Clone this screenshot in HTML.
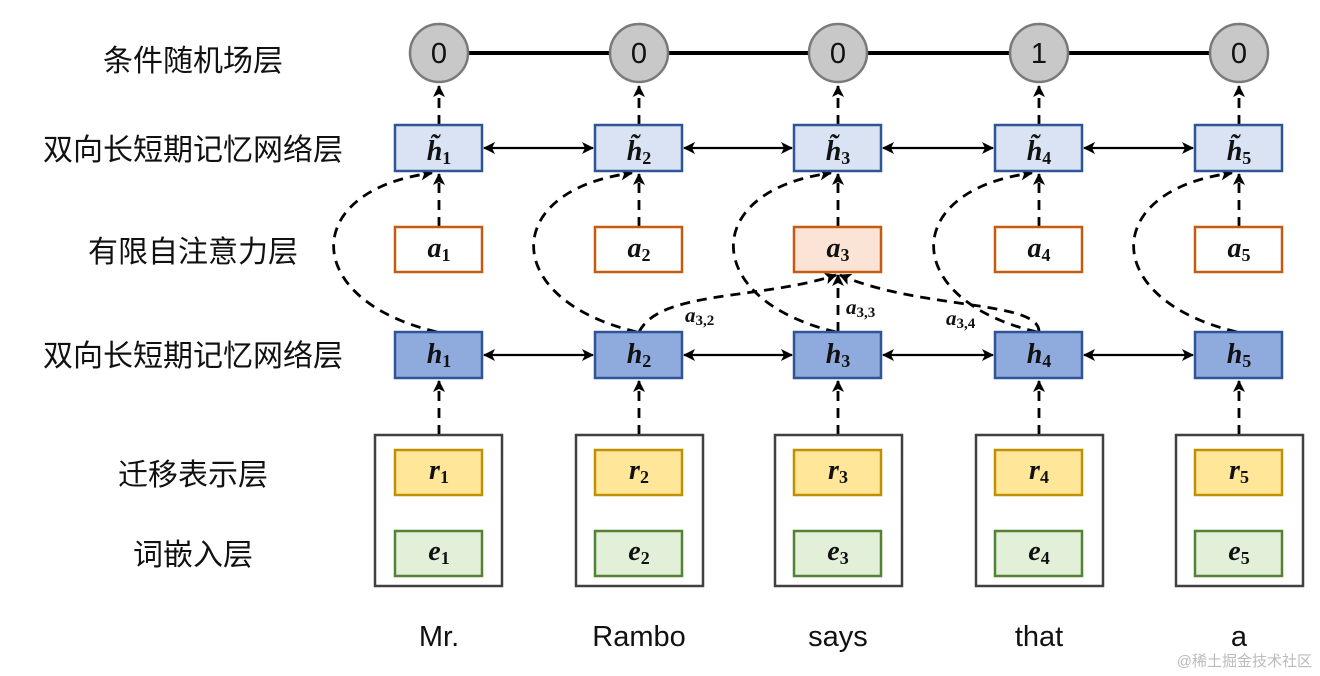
<!DOCTYPE html>
<html><head><meta charset="utf-8"><style>
body{margin:0;background:#fff}
svg{display:block}
.lab{font-family:"Liberation Sans","Noto Sans CJK SC",sans-serif;font-size:30px;fill:#111}
.m{font-family:"Liberation Serif",serif;font-weight:bold;font-style:italic;font-size:28px;fill:#111}
.s{font-style:normal;font-size:18px}
.w{font-family:"Liberation Sans",sans-serif;font-size:29px;fill:#111}
.n{font-family:"Liberation Sans",sans-serif;font-size:29px;fill:#111}
</style></head><body>
<svg width="1320" height="676" viewBox="0 0 1320 676">
<defs>
<marker id="ar" markerWidth="12" markerHeight="12" refX="11" refY="6" orient="auto" markerUnits="userSpaceOnUse"><path d="M0,0 L12,6 L0,12 L3,6 z" fill="#000"/></marker>
<marker id="al" markerWidth="12" markerHeight="12" refX="1" refY="6" orient="auto" markerUnits="userSpaceOnUse"><path d="M12,0 L0,6 L12,12 L9,6 z" fill="#000"/></marker>
</defs>
<g class="lab" text-anchor="middle">
<text x="193" y="71">条件随机场层</text>
<text x="193" y="160">双向长短期记忆网络层</text>
<text x="193" y="262">有限自注意力层</text>
<text x="193" y="366">双向长短期记忆网络层</text>
<text x="193" y="485">迁移表示层</text>
<text x="193" y="565">词嵌入层</text>
</g>
<line x1="439" y1="53" x2="1239" y2="53" stroke="#000" stroke-width="4"/>
<g fill="none" stroke="#000" stroke-width="2.8" stroke-dasharray="10,7">
<path d="M439 125 V86" marker-end="url(#ar)"/><path d="M639 125 V86" marker-end="url(#ar)"/><path d="M838 125 V86" marker-end="url(#ar)"/><path d="M1039 125 V86" marker-end="url(#ar)"/><path d="M1239 125 V86" marker-end="url(#ar)"/>
<path d="M439 227 V174" marker-end="url(#ar)"/><path d="M639 227 V174" marker-end="url(#ar)"/><path d="M838 227 V174" marker-end="url(#ar)"/><path d="M1039 227 V174" marker-end="url(#ar)"/><path d="M1239 227 V174" marker-end="url(#ar)"/>
<path d="M439 435 V381" marker-end="url(#ar)"/><path d="M639 435 V381" marker-end="url(#ar)"/><path d="M838 435 V381" marker-end="url(#ar)"/><path d="M1039 435 V381" marker-end="url(#ar)"/><path d="M1239 435 V381" marker-end="url(#ar)"/>
<path d="M437 332 C300 300, 300 190, 432 173" marker-end="url(#ar)"/>
<path d="M637 332 C500 300, 500 190, 632 173" marker-end="url(#ar)"/>
<path d="M836 332 C700 300, 700 190, 831 173" marker-end="url(#ar)"/>
<path d="M1037 332 C900 300, 900 190, 1032 173" marker-end="url(#ar)"/>
<path d="M1237 332 C1100 300, 1100 190, 1232 173" marker-end="url(#ar)"/>
<path d="M639 332 C660 290, 760 300, 836 275" marker-end="url(#ar)"/>
<path d="M838 332 V275" marker-end="url(#ar)"/>
<path d="M1039 332 C1040 300, 920 310, 840 275" marker-end="url(#ar)"/>
</g>
<g stroke="#000" stroke-width="2.2" fill="none">
<line x1="484" y1="148" x2="593" y2="148" marker-start="url(#al)" marker-end="url(#ar)"/>
<line x1="684" y1="148" x2="792" y2="148" marker-start="url(#al)" marker-end="url(#ar)"/>
<line x1="883" y1="148" x2="993" y2="148" marker-start="url(#al)" marker-end="url(#ar)"/>
<line x1="1084" y1="148" x2="1193" y2="148" marker-start="url(#al)" marker-end="url(#ar)"/>
<line x1="484" y1="355" x2="593" y2="355" marker-start="url(#al)" marker-end="url(#ar)"/>
<line x1="684" y1="355" x2="792" y2="355" marker-start="url(#al)" marker-end="url(#ar)"/>
<line x1="883" y1="355" x2="993" y2="355" marker-start="url(#al)" marker-end="url(#ar)"/>
<line x1="1084" y1="355" x2="1193" y2="355" marker-start="url(#al)" marker-end="url(#ar)"/>
</g>
<g fill="#c8c8c8" stroke="#7a7a7a" stroke-width="2.5">
<circle cx="439" cy="53" r="29"/><circle cx="639" cy="53" r="29"/><circle cx="838" cy="53" r="29"/><circle cx="1039" cy="53" r="29"/><circle cx="1239" cy="53" r="29"/>
</g>
<g class="n" text-anchor="middle">
<text x="439" y="63">0</text><text x="639" y="63">0</text><text x="838" y="63">0</text><text x="1039" y="63">1</text><text x="1239" y="63">0</text>
</g>
<g stroke-width="2.5">
<g fill="#dae3f3" stroke="#2f5597">
<rect x="395" y="125" width="87" height="46"/><rect x="595" y="125" width="87" height="46"/><rect x="794" y="125" width="87" height="46"/><rect x="995" y="125" width="87" height="46"/><rect x="1195" y="125" width="87" height="46"/>
</g>
<g fill="#fff" stroke="#c55a11">
<rect x="395" y="227" width="87" height="45"/><rect x="595" y="227" width="87" height="45"/><rect x="794" y="227" width="87" height="45" fill="#fbe3d5"/><rect x="995" y="227" width="87" height="45"/><rect x="1195" y="227" width="87" height="45"/>
</g>
<g fill="#8faadc" stroke="#2f5597">
<rect x="395" y="332" width="87" height="46"/><rect x="595" y="332" width="87" height="46"/><rect x="794" y="332" width="87" height="46"/><rect x="995" y="332" width="87" height="46"/><rect x="1195" y="332" width="87" height="46"/>
</g>
<g fill="#fff" stroke="#404040">
<rect x="375" y="435" width="127" height="151"/><rect x="576" y="435" width="127" height="151"/><rect x="775" y="435" width="127" height="151"/><rect x="976" y="435" width="127" height="151"/><rect x="1176" y="435" width="127" height="151"/>
</g>
<g fill="#ffe699" stroke="#bf9000">
<rect x="395" y="450" width="87" height="45"/><rect x="595" y="450" width="87" height="45"/><rect x="794" y="450" width="87" height="45"/><rect x="995" y="450" width="87" height="45"/><rect x="1195" y="450" width="87" height="45"/>
</g>
<g fill="#e2f0d9" stroke="#548235">
<rect x="395" y="531" width="87" height="45"/><rect x="595" y="531" width="87" height="45"/><rect x="794" y="531" width="87" height="45"/><rect x="995" y="531" width="87" height="45"/><rect x="1195" y="531" width="87" height="45"/>
</g>
</g>
<g class="m" text-anchor="middle">
<text x="439" y="160">h̃<tspan class="s" dy="4">1</tspan></text>
<text x="639" y="160">h̃<tspan class="s" dy="4">2</tspan></text>
<text x="838" y="160">h̃<tspan class="s" dy="4">3</tspan></text>
<text x="1039" y="160">h̃<tspan class="s" dy="4">4</tspan></text>
<text x="1239" y="160">h̃<tspan class="s" dy="4">5</tspan></text>
<text x="439" y="257">a<tspan class="s" dy="4">1</tspan></text>
<text x="639" y="257">a<tspan class="s" dy="4">2</tspan></text>
<text x="838" y="257">a<tspan class="s" dy="4">3</tspan></text>
<text x="1039" y="257">a<tspan class="s" dy="4">4</tspan></text>
<text x="1239" y="257">a<tspan class="s" dy="4">5</tspan></text>
<text x="439" y="363">h<tspan class="s" dy="4">1</tspan></text>
<text x="639" y="363">h<tspan class="s" dy="4">2</tspan></text>
<text x="838" y="363">h<tspan class="s" dy="4">3</tspan></text>
<text x="1039" y="363">h<tspan class="s" dy="4">4</tspan></text>
<text x="1239" y="363">h<tspan class="s" dy="4">5</tspan></text>
<text x="439" y="479">r<tspan class="s" dy="4">1</tspan></text>
<text x="639" y="479">r<tspan class="s" dy="4">2</tspan></text>
<text x="838" y="479">r<tspan class="s" dy="4">3</tspan></text>
<text x="1039" y="479">r<tspan class="s" dy="4">4</tspan></text>
<text x="1239" y="479">r<tspan class="s" dy="4">5</tspan></text>
<text x="439" y="560">e<tspan class="s" dy="4">1</tspan></text>
<text x="639" y="560">e<tspan class="s" dy="4">2</tspan></text>
<text x="838" y="560">e<tspan class="s" dy="4">3</tspan></text>
<text x="1039" y="560">e<tspan class="s" dy="4">4</tspan></text>
<text x="1239" y="560">e<tspan class="s" dy="4">5</tspan></text>
</g>
<g class="m" style="font-size:21px">
<text x="685" y="322">a<tspan class="s" style="font-size:15px" dy="3">3,2</tspan></text>
<text x="846" y="314">a<tspan class="s" style="font-size:15px" dy="3">3,3</tspan></text>
<text x="946" y="325">a<tspan class="s" style="font-size:15px" dy="3">3,4</tspan></text>
</g>
<g class="w" text-anchor="middle">
<text x="439" y="646">Mr.</text><text x="639" y="646">Rambo</text><text x="838" y="646">says</text><text x="1039" y="646">that</text><text x="1239" y="646">a</text>
</g>
<text x="1312" y="666" text-anchor="end" style="font-family:'Liberation Sans','Noto Sans CJK SC',sans-serif;font-size:15px;fill:#bbb">@稀土掘金技术社区</text>
</svg>
</body></html>
